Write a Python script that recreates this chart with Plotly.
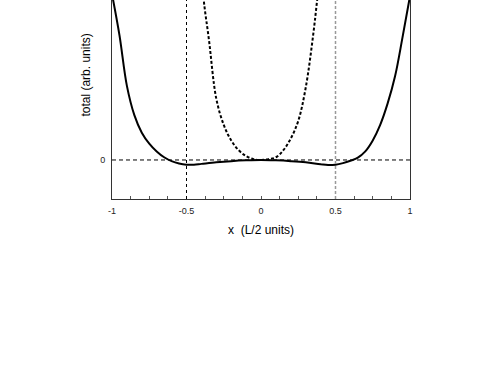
import plotly.graph_objects as go

# Solid curve (total)
solid_x = [-1.0, -0.95, -0.9, -0.85, -0.8, -0.75, -0.7, -0.65, -0.6, -0.55, -0.5, -0.45, -0.4,
           -0.3, -0.2, -0.1, 0.0, 0.1, 0.2, 0.3, 0.4, 0.45, 0.5, 0.55, 0.6, 0.65, 0.7, 0.75,
           0.8, 0.85, 0.9, 0.95, 1.0]
solid_y = [4.25, 3.2, 1.9, 1.15, 0.7, 0.42, 0.22, 0.07, -0.03, -0.09, -0.12, -0.12, -0.1,
           -0.06, -0.03, -0.01, 0.0, -0.01, -0.03, -0.06, -0.11, -0.13, -0.12, -0.08, -0.02,
           0.06, 0.22, 0.5, 0.9, 1.45, 2.15, 3.15, 4.2]

# Dashed curve
dashed_x = [-0.4, -0.38, -0.35, -0.3, -0.25, -0.2, -0.15, -0.1, -0.05, 0.0,
            0.05, 0.1, 0.15, 0.2, 0.25, 0.3, 0.35, 0.38, 0.4]
dashed_y = [4.7, 3.95, 3.1, 1.57, 0.9, 0.5, 0.25, 0.1, 0.02, 0.0,
            0.02, 0.07, 0.25, 0.55, 1.0, 1.85, 3.2, 4.2, 4.8]

x_ticks = [-1, -0.5, 0, 0.5, 1]
x_tick_labels = ["-1", "-0.5", "0", "0.5", "1"]
y_ticks = [0]
y_tick_labels = ["0"]

FONT = "Liberation Sans, Arial, sans-serif"

fig = go.Figure()
fig.add_trace(go.Scatter(x=dashed_x, y=dashed_y, mode="lines",
                         line=dict(color="black", width=2, dash="3px,2px", shape="spline", smoothing=1.0),
                         showlegend=False, hoverinfo="skip"))
fig.add_trace(go.Scatter(x=solid_x, y=solid_y, mode="lines",
                         line=dict(color="black", width=2, shape="spline", smoothing=1.0),
                         showlegend=False, hoverinfo="skip"))

# reference lines
fig.add_shape(type="line", xref="x", yref="paper", x0=-0.5, x1=-0.5, y0=0, y1=1,
              line=dict(color="black", width=1, dash="3px,3px"))
fig.add_shape(type="line", xref="x", yref="paper", x0=0.5, x1=0.5, y0=0, y1=1,
              line=dict(color="#999999", width=1.5, dash="3px,2px"))
fig.add_shape(type="line", xref="paper", yref="y", x0=0, x1=1.01, y0=0, y1=0,
              line=dict(color="black", width=1, dash="4px,3px"))

fig.add_annotation(text="total (arb. units)", xref="paper", yref="paper", x=0, y=0.62,
                   xshift=-26, textangle=-90, showarrow=False, xanchor="center", yanchor="middle",
                   font=dict(family=FONT, size=12, color="black"))

fig.update_layout(
    width=499, height=382,
    margin=dict(l=112, r=89, t=0, b=183),
    paper_bgcolor="white", plot_bgcolor="white",
    font=dict(family=FONT, color="black"),
    xaxis=dict(range=[-1, 1], tickvals=x_ticks, ticktext=x_tick_labels,
               ticks="inside", ticklen=3, tickcolor="#555", tickwidth=1,
               minor=dict(dtick=0.125, tick0=0, ticks="inside", ticklen=3, tickcolor="#555"),
               showline=True, linecolor="#333", linewidth=1, mirror=False,
               showgrid=False, zeroline=False, ticklabelstandoff=3,
               tickfont=dict(size=9, family=FONT, color="#222"),
               title=dict(text="x  (L/2 units)", font=dict(size=12, family=FONT, color="black"), standoff=10)),
    yaxis=dict(range=[-1, 4.1], tickvals=y_ticks, ticktext=y_tick_labels, ticks="",
               showline=True, linecolor="#333", linewidth=1, mirror=True,
               showgrid=False, zeroline=False, ticklabelstandoff=4,
               tickfont=dict(size=9, family=FONT, color="#222")),
)

fig.write_html("out.html", config={"displayModeBar": False},
               post_script="document.body.style.margin='0';document.body.style.padding='0';")
